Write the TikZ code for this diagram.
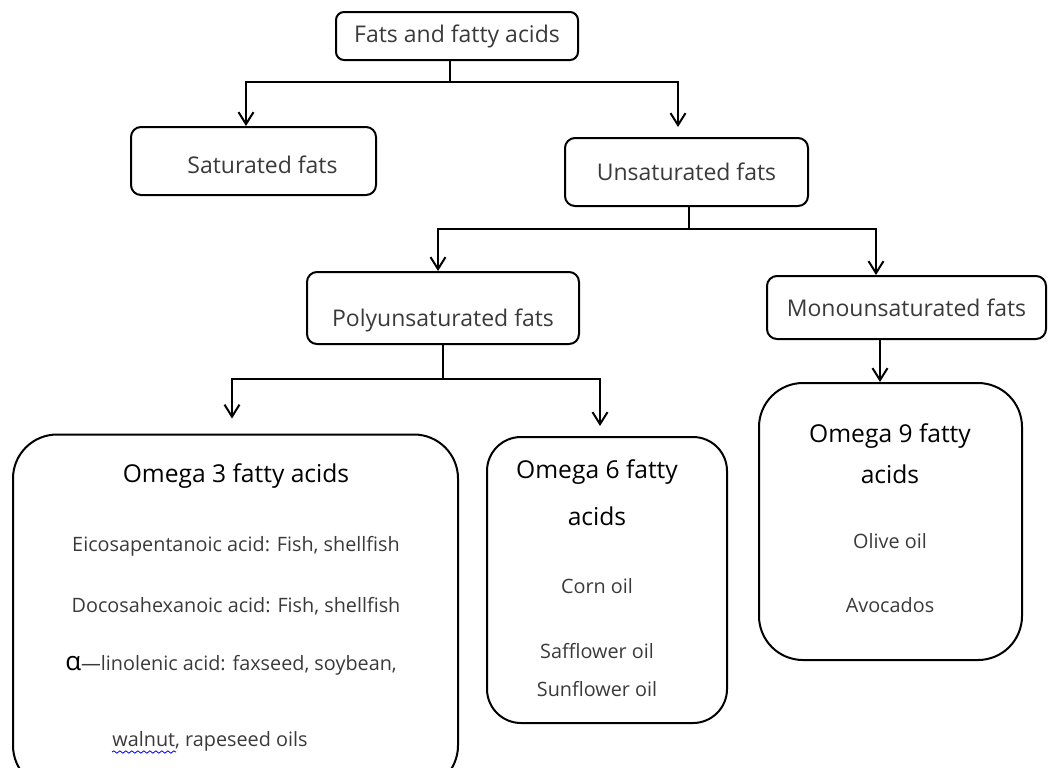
\documentclass[tikz,border=0pt]{standalone}
\usepackage{fontspec}
\setmainfont{Open Sans}
\usetikzlibrary{arrows.meta,decorations.pathmorphing}
\begin{document}
\begin{tikzpicture}[x=0.5pt,y=-0.5pt,
  catbox/.style={draw,line width=1pt,rounded corners=5pt,inner sep=0pt,text=bodygray,font=\fontsize{11.5}{13}\selectfont},
  oilbox/.style={draw,line width=1pt,inner sep=0pt},
  branch/.style={line width=1pt},
  arrow/.style={branch,-{Straight Barb[length=6pt,width=7.5pt]}},
  head/.style={font=\fontsize{12.3}{14}\selectfont},
  item/.style={text=bodygray,font=\fontsize{9.9}{12}\selectfont}]
\definecolor{bodygray}{HTML}{3A3A3A}
\useasboundingbox (0,0) rectangle (1054,767);
\clip (0,0) rectangle (1054,767);
% category boxes
\node [catbox,rounded corners=4pt,minimum width=121pt,minimum height=24pt] (fats) at (457,36) {Fats and fatty acids};
\node [catbox,minimum width=122.5pt,minimum height=34pt,text height=13pt] (sat) at (253.5,161) {\hspace*{9pt}Saturated fats};
\node [catbox,minimum width=121.5pt,minimum height=34pt] (unsat) at (686.5,172) {Unsaturated fats};
\node [catbox,minimum width=136pt,minimum height=36pt,text height=21pt] (poly) at (443,308) {Polyunsaturated fats};
\node [catbox,minimum width=139.5pt,minimum height=31.5pt] (mono) at (906.5,307.5) {Monounsaturated fats};
% oil boxes
\node [oilbox,rounded corners=22pt,minimum width=222.5pt,minimum height=177.5pt] (omega3) at (235.5,612) {};
\node [oilbox,rounded corners=17pt,minimum width=120pt,minimum height=143pt] (omega6) at (607,580) {};
\node [oilbox,rounded corners=22pt,minimum width=131.5pt,minimum height=138.5pt] (omega9) at (890.5,521.5) {};
% texts in the oil boxes
\node [head] (o3head) at (236,476) {Omega 3 fatty acids};
\node [item] (o3a) at (236,546) {Eicosapentanoic acid: Fish, shellfish};
\node [item] (o3b) at (236,606) {Docosahexanoic acid: Fish, shellfish};
\node [item] (o3c) at (231,665) {{\color{black}\fontsize{13}{14}\selectfont α}---linolenic acid: faxseed, soybean,};
\node [item] (o3d) at (210,741) {walnut, rapeseed oils};
\draw [blue,line width=0.4pt,decorate,decoration={snake,amplitude=0.6pt,segment length=3pt}] (112,752) -- (176,752);
\node [head] (o6head) at (597,472) {Omega 6 fatty};
\node [head] (o6head2) at (597,516) {acids};
\node [item] (o6a) at (597,586) {Corn oil};
\node [item] (o6b) at (597,651) {Safflower oil};
\node [item] (o6c) at (597,689) {Sunflower oil};
\node [head] (o9head) at (890,436) {Omega 9 fatty};
\node [head] (o9head2) at (890,474) {acids};
\node [item] (o9a) at (890,541) {Olive oil};
\node [item] (o9b) at (890,605) {Avocados};
% connectors
\coordinate (j1) at (450,82);
\coordinate (j2) at (689,229);
\coordinate (j3) at (443,379);
\draw [branch] (fats.south -| j1) -- (j1);
\draw [arrow] (j1) -| ([xshift=-3.75pt]sat.north);
\draw [arrow] (j1) -| ([xshift=-4.25pt,yshift=5pt]unsat.north);
\draw [branch] (unsat.south -| j2) -- (j2);
\draw [arrow] (j2) -| ([xshift=-2.5pt]poly.north);
\draw [arrow] (j2) -| ([xshift=-15.25pt]mono.north);
\draw [branch] (poly.south -| j3) -- (j3);
\draw [arrow] (j3) -| ([xshift=-1.75pt,yshift=7.5pt]omega3.north);
\draw [arrow] (j3) -| ([xshift=-3.5pt,yshift=5pt]omega6.north);
\draw [arrow] ([xshift=-13.25pt]mono.south) -- ([xshift=-5.25pt]omega9.north);
\end{tikzpicture}
\end{document}
